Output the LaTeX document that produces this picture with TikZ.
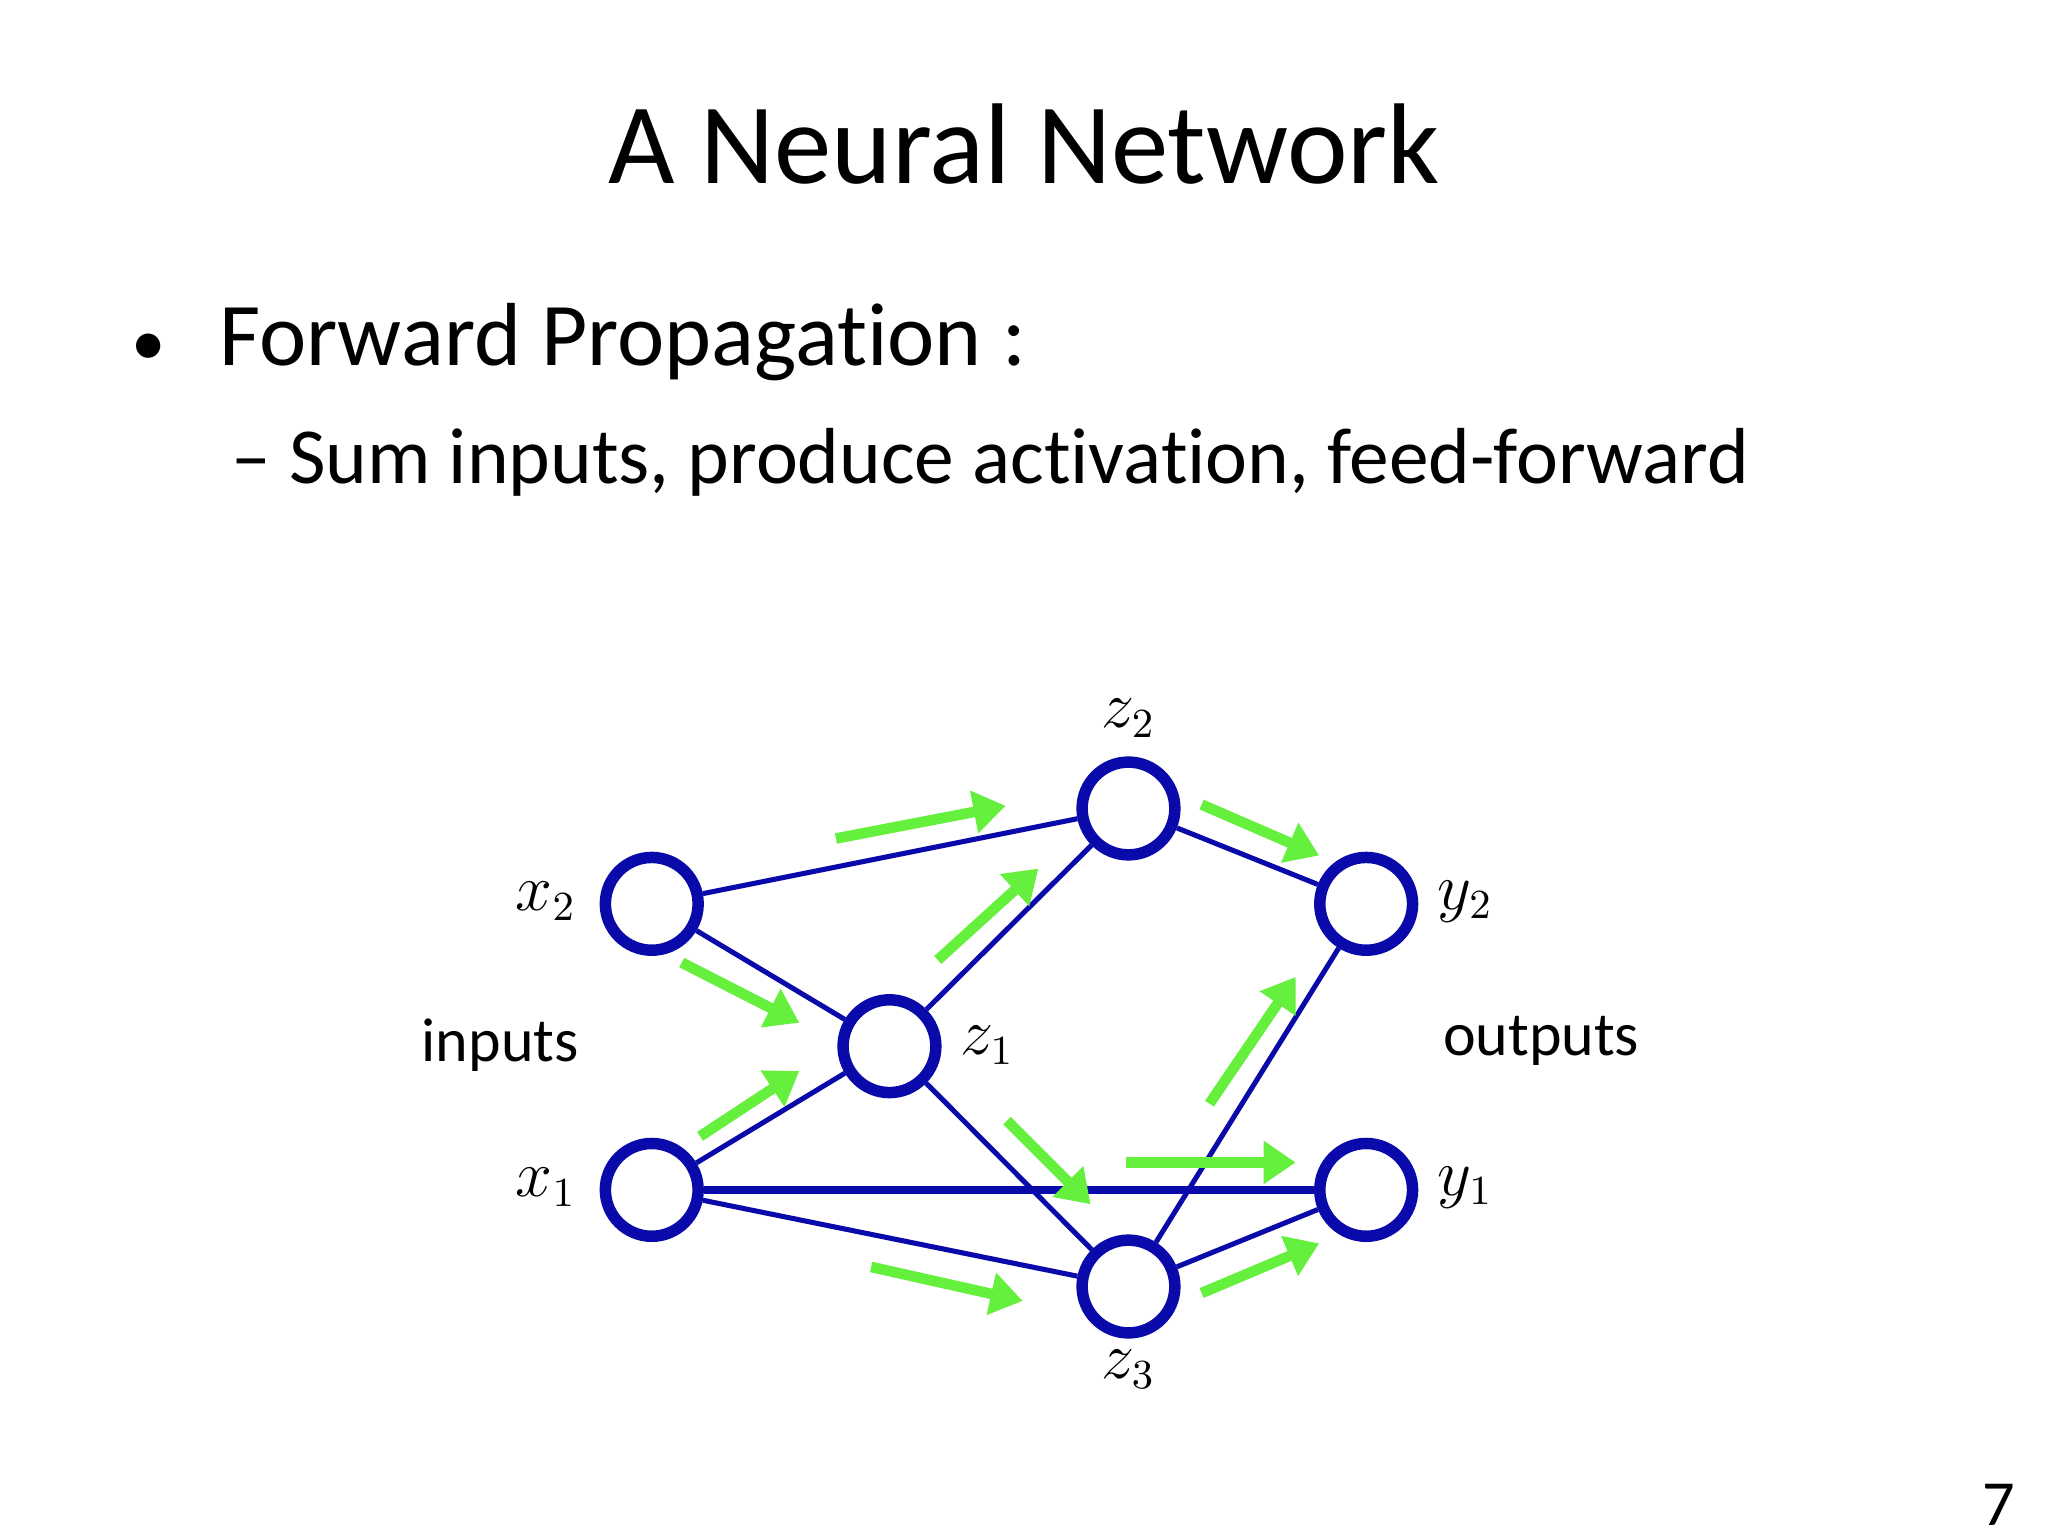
\documentclass[tikz,border=0pt]{standalone}
\usepackage{fontspec}
\setmainfont[Ligatures=NoCommon]{Carlito}
\usetikzlibrary{arrows.meta}
\definecolor{netblue}{RGB}{10,10,170}
\definecolor{flowgreen}{RGB}{100,240,60}
\begin{document}
\begin{tikzpicture}[x=0.01cm,y=-0.01cm,
  neuron/.style={circle,draw=netblue,line width=2.5pt,minimum size=0.71cm,inner sep=0pt},
  link/.style={draw=netblue,line width=1.1pt},
  flow/.style={draw=flowgreen,line width=2.3pt,-{Triangle[length=7pt,width=9pt]}},
  lbl/.style={font=\fontsize{13.5}{16}\selectfont}]
\useasboundingbox (0,0) rectangle (1568,1176);
\fill[white] (0,0) rectangle (1568,1176);
\node[font=\fontsize{25}{30}\selectfont] (title) at (784,110) {A Neural Network};
\node[anchor=west,font=\fontsize{19.5}{24}\selectfont] (b1) at (88,262) {{\fontsize{15}{18}\selectfont•}\hspace{0.6em}Forward Propagation :};
\node[anchor=west,font=\fontsize{17.3}{20}\selectfont] (b2) at (165,354) {– Sum inputs, produce activation, feed-forward};
% neurons
\node[neuron] (x2) at (499,692) {};
\node[neuron] (x1) at (499,911) {};
\node[neuron] (z1) at (681,801) {};
\node[neuron] (z2) at (864,619) {};
\node[neuron] (z3) at (864,985) {};
\node[neuron] (y2) at (1046,692) {};
\node[neuron] (y1) at (1046,911) {};
% labels
\node[lbl] (lx2) at (418,690) {$x_2$};
\node[lbl] (lx1) at (418,909) {$x_1$};
\node[lbl] (lz1) at (756,800) {$z_1$};
\node[lbl] (lz2) at (864,550) {$z_2$};
\node[lbl] (lz3) at (864,1048) {$z_3$};
\node[lbl] (ly2) at (1122,690) {$y_2$};
\node[lbl] (ly1) at (1122,909) {$y_1$};
\node[lbl] (lin) at (383,800) {inputs};
\node[lbl] (lout) at (1180,797) {outputs};
% links
\draw[link] (x2) -- (z2);
\draw[link] (x2) -- (z1);
\draw[link] (x1) -- (z1);
\draw[link,line width=1.7pt] (x1) -- (y1);
\draw[link] (x1) -- (z3);
\draw[link] (z1) -- (z2);
\draw[link] (z1) -- (z3);
\draw[link] (z2) -- (y2);
\draw[link] (z3) -- (y2);
\draw[link] (z3) -- (y1);
% flow arrows
\foreach \n/\a/\b/\c/\d in {f1/640/642/770/617, f2/522/737/612/783, f3/536/870/612/820,
  f4/718/735/795/665, f5/920/616/1010/655, f6/926/845/992/748, f7/862/890/992/890,
  f8/771/858/835/922, f9/667/970/783/996, f10/920/990/1010/952}{
  \coordinate (\n s) at (\a,\b);
  \coordinate (\n e) at (\c,\d);
  \draw[flow] (\n s) -- (\n e);
}
\node[font=\fontsize{14}{16}\selectfont] (page) at (1530,1152) {7};
\end{tikzpicture}
\end{document}
